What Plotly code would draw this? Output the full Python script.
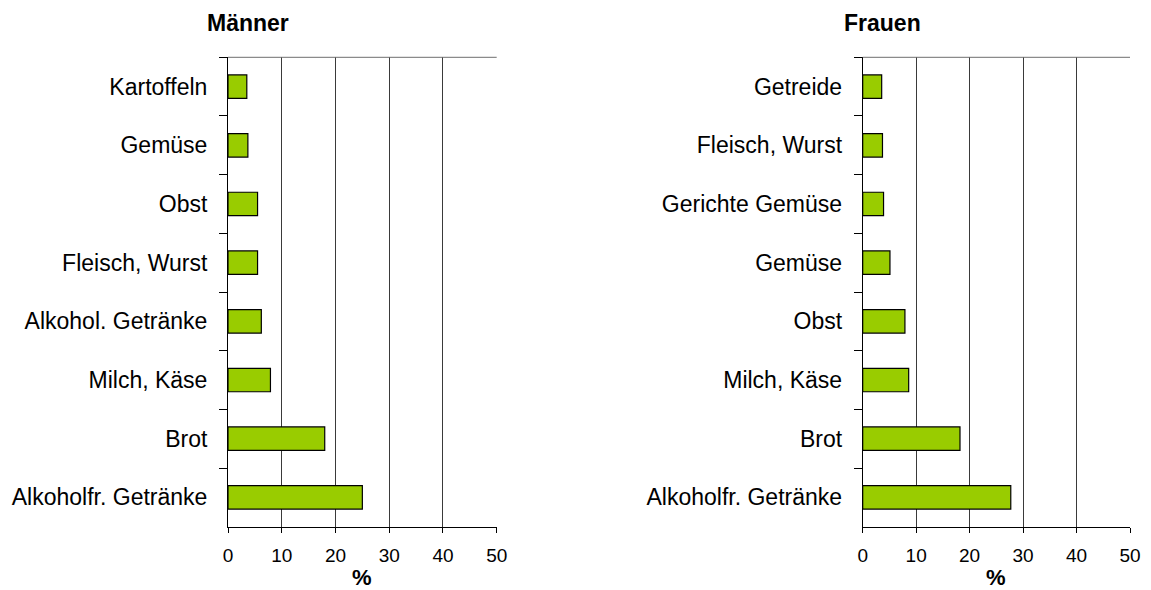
import plotly.graph_objects as go
from plotly.subplots import make_subplots

# Food groups, listed top to bottom as drawn
maenner_cats = ["Kartoffeln", "Gemüse", "Obst", "Fleisch, Wurst",
                "Alkohol. Getränke", "Milch, Käse", "Brot", "Alkoholfr. Getränke"]
maenner_vals = [3.5, 3.7, 5.5, 5.5, 6.2, 7.9, 18.0, 25.0]

frauen_cats = ["Getreide", "Fleisch, Wurst", "Gerichte Gemüse", "Gemüse",
               "Obst", "Milch, Käse", "Brot", "Alkoholfr. Getränke"]
frauen_vals = [3.55, 3.7, 3.9, 5.1, 7.9, 8.6, 18.2, 27.7]

x_ticks = [0, 10, 20, 30, 40, 50]

W, H = 1151, 590
FONT = "Liberation Sans, Arial, sans-serif"
BAR = "#99CC00"

fig = make_subplots(rows=1, cols=2)

for i, (cats, vals) in enumerate([(maenner_cats, maenner_vals),
                                  (frauen_cats, frauen_vals)], start=1):
    fig.add_trace(go.Bar(x=vals, y=cats, orientation="h", width=0.4,
                         marker=dict(color=BAR, line=dict(color="#000000", width=1.2)),
                         showlegend=False, hoverinfo="x+y"), row=1, col=i)

x_domains = [[228 / W, 496.7 / W], [862.7 / W, 1130 / W]]
y_domain = [1 - 526.7 / H, 1 - 57.3 / H]

for i in (1, 2):
    xa = "xaxis" if i == 1 else "xaxis2"
    ya = "yaxis" if i == 1 else "yaxis2"
    fig.layout[xa].update(domain=x_domains[i - 1], range=[0, 50], tickvals=x_ticks,
                          showgrid=True, gridcolor="#3a3a3a", gridwidth=1,
                          zeroline=False, showline=True, linecolor="#000000", linewidth=1,
                          ticks="outside", ticklen=5, tickcolor="#000000",
                          ticklabelstandoff=6,
                          tickfont=dict(family=FONT, size=19, color="#000000"),
                          automargin=False, fixedrange=True)
    fig.layout[ya].update(domain=y_domain, autorange="reversed", type="category",
                          tickson="boundaries", ticks="outside", ticklen=8,
                          tickcolor="#000000", showgrid=False, showline=True,
                          linecolor="#000000", linewidth=1,
                          ticklabelstandoff=15,
                          tickfont=dict(family=FONT, size=23, color="#000000"),
                          automargin=False, fixedrange=True)

# top border of each plot box
for xd in ("x domain", "x2 domain"):
    yd = "y domain" if xd == "x domain" else "y2 domain"
    fig.add_shape(type="line", xref=xd, yref=yd, x0=0, x1=1, y0=1, y1=1,
                  line=dict(color="#6f6f6f", width=1))

annotations = [
    dict(text="<b>Männer</b>", x=247.5 / W, y=1 - 23 / H, size=23),
    dict(text="<b>Frauen</b>", x=883 / W, y=1 - 23 / H, size=23),
    dict(text="<b>%</b>", x=362 / W, y=1 - 577 / H, size=22),
    dict(text="<b>%</b>", x=996 / W, y=1 - 577 / H, size=22),
]
for a in annotations:
    size = a.pop("size")
    fig.add_annotation(xref="paper", yref="paper", xanchor="center", yanchor="middle",
                       showarrow=False, font=dict(family=FONT, size=size, color="#000000"), **a)

fig.update_layout(width=W, height=H, margin=dict(l=0, r=0, t=0, b=0),
                  paper_bgcolor="#ffffff", plot_bgcolor="#ffffff", bargap=0.6)

fig.write_html("out.html")
